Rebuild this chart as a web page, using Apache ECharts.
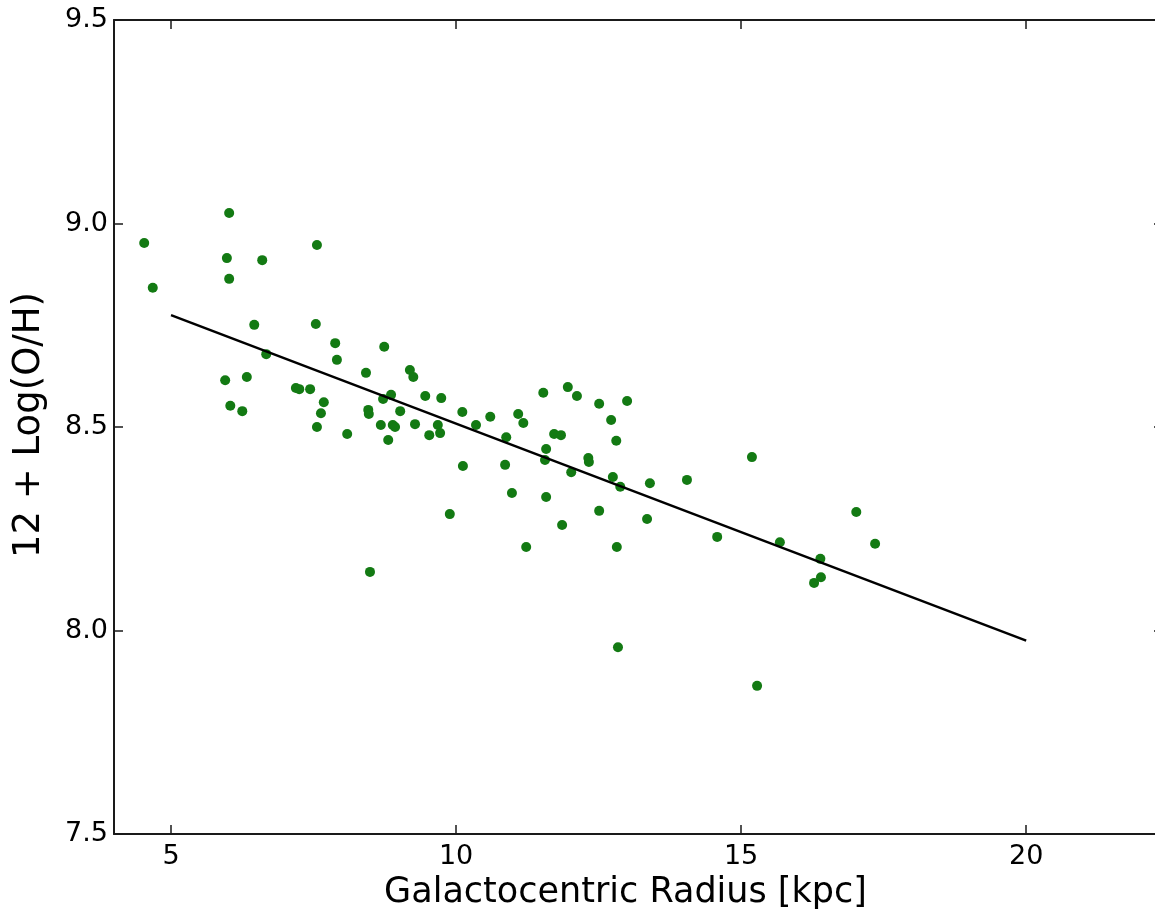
<!DOCTYPE html>
<html>
<head>
<meta charset="utf-8">
<script src="https://cdn.jsdelivr.net/npm/echarts@6/dist/echarts.min.js"></script>
<style>
  html, body { margin: 0; padding: 0; background: #fff; }
  #chart { width: 1155px; height: 916px; }
</style>
</head>
<body>
<div id="chart"></div>
<script>
// Galactocentric radius [kpc]
const radius = [
  4.53, 4.68, 6.02, 5.98, 6.02, 6.60, 7.56, 6.46, 7.54, 6.67,
  7.88, 7.91, 8.74, 5.95, 6.33, 6.04, 6.25, 7.19, 7.25, 7.44,
  7.68, 7.63, 7.56, 8.09, 8.42, 8.46, 8.47, 8.49, 8.72, 8.86,
  8.68, 8.89, 8.93, 8.81, 9.02, 9.19, 9.25, 9.28, 9.46, 9.53,
  9.74, 9.68, 9.72, 10.11, 10.12, 9.89, 10.35, 10.60, 10.86, 10.88,
  10.98, 11.09, 11.18, 11.23, 11.53, 11.58, 11.56, 11.58, 11.72, 11.84,
  11.86, 11.96, 12.12, 12.02, 12.32, 12.33, 12.51, 12.51, 12.72, 12.81,
  12.75, 12.82, 12.84, 12.88, 13.00, 13.35, 13.40, 14.05, 14.58, 15.19,
  15.28, 15.68, 16.28, 16.40, 16.39, 17.02, 17.35
];
// 12 + Log(O/H)
const abundance = [
  8.952, 8.842, 9.026, 8.915, 8.864, 8.910, 8.947, 8.751, 8.753, 8.679,
  8.706, 8.665, 8.697, 8.615, 8.623, 8.552, 8.539, 8.596, 8.593, 8.593,
  8.561, 8.534, 8.500, 8.483, 8.633, 8.542, 8.532, 8.144, 8.569, 8.579,
  8.505, 8.505, 8.500, 8.468, 8.539, 8.640, 8.623, 8.507, 8.576, 8.480,
  8.571, 8.505, 8.485, 8.537, 8.404, 8.286, 8.505, 8.525, 8.407, 8.475,
  8.338, 8.532, 8.510, 8.205, 8.584, 8.446, 8.419, 8.328, 8.483, 8.480,
  8.259, 8.598, 8.576, 8.389, 8.424, 8.414, 8.557, 8.294, 8.517, 8.466,
  8.377, 8.205, 7.959, 8.353, 8.564, 8.274, 8.362, 8.370, 8.230, 8.426,
  7.864, 8.217, 8.117, 8.131, 8.176, 8.291, 8.213
];
// Fitted gradient line endpoints
const fitX = [5, 20];
const fitY = [8.775, 7.975];
// Tick labels
const xTicks = [5, 10, 15, 20];
const yTicks = [7.5, 8.0, 8.5, 9.0, 9.5];

const points = radius.map((r, i) => [r, abundance[i]]);
const fitLine = fitX.map((x, i) => [x, fitY[i]]);

const FONT = 'DejaVu Sans';
const axisLineStyle = { color: '#1a1a1a', width: 2 };
const tickStyle = { color: '#1a1a1a', width: 1.5 };

const chart = echarts.init(document.getElementById('chart'), null, { renderer: 'canvas' });
chart.setOption({
  animation: false,
  backgroundColor: '#ffffff',
  grid: {
    left: 114, top: 20, width: 1049, height: 814,
    outerBoundsMode: 'none', containLabel: false
  },
  xAxis: [
    {
      type: 'value', position: 'bottom', min: 4, max: 22.4,
      name: 'Galactocentric Radius [kpc]', nameLocation: 'middle', nameGap: 41,
      nameTextStyle: { fontFamily: FONT, fontSize: 35, color: '#000', padding: [0, 26, 0, 0] },
      axisLine: { show: true, onZero: false, lineStyle: axisLineStyle },
      axisTick: { show: true, inside: true, length: 9, lineStyle: tickStyle, customValues: xTicks },
      axisLabel: { show: true, margin: 9, fontFamily: FONT, fontSize: 27, color: '#000', customValues: xTicks },
      splitLine: { show: false }
    },
    {
      type: 'value', position: 'top', min: 4, max: 22.4,
      axisLine: { show: true, onZero: false, lineStyle: axisLineStyle },
      axisTick: { show: true, inside: true, length: 9, lineStyle: tickStyle, customValues: xTicks },
      axisLabel: { show: false },
      splitLine: { show: false }
    }
  ],
  yAxis: [
    {
      type: 'value', position: 'left', min: 7.5, max: 9.5, interval: 0.5,
      name: '12 + Log(O/H)', nameLocation: 'middle', nameGap: 66,
      nameTextStyle: { fontFamily: FONT, fontSize: 37, color: '#000', padding: [0, 0, 0, 4] },
      axisLine: { show: true, onZero: false, lineStyle: axisLineStyle },
      axisTick: { show: true, inside: true, length: 9, lineStyle: tickStyle },
      axisLabel: {
        show: true, margin: 6, fontFamily: FONT, fontSize: 27, color: '#000',
        formatter: v => v.toFixed(1), customValues: yTicks
      },
      splitLine: { show: false }
    },
    {
      type: 'value', position: 'right', min: 7.5, max: 9.5, interval: 0.5,
      axisLine: { show: true, onZero: false, lineStyle: axisLineStyle },
      axisTick: { show: true, inside: true, length: 9, lineStyle: tickStyle },
      axisLabel: { show: false },
      splitLine: { show: false }
    }
  ],
  series: [
    {
      type: 'scatter', xAxisIndex: 0, yAxisIndex: 0,
      data: points, symbol: 'circle', symbolSize: 10,
      itemStyle: { color: '#137a13', opacity: 1 }
    },
    {
      type: 'line', xAxisIndex: 0, yAxisIndex: 0,
      data: fitLine, symbol: 'none',
      lineStyle: { color: '#000', width: 2.5 }
    }
  ]
});
</script>
</body>
</html>
